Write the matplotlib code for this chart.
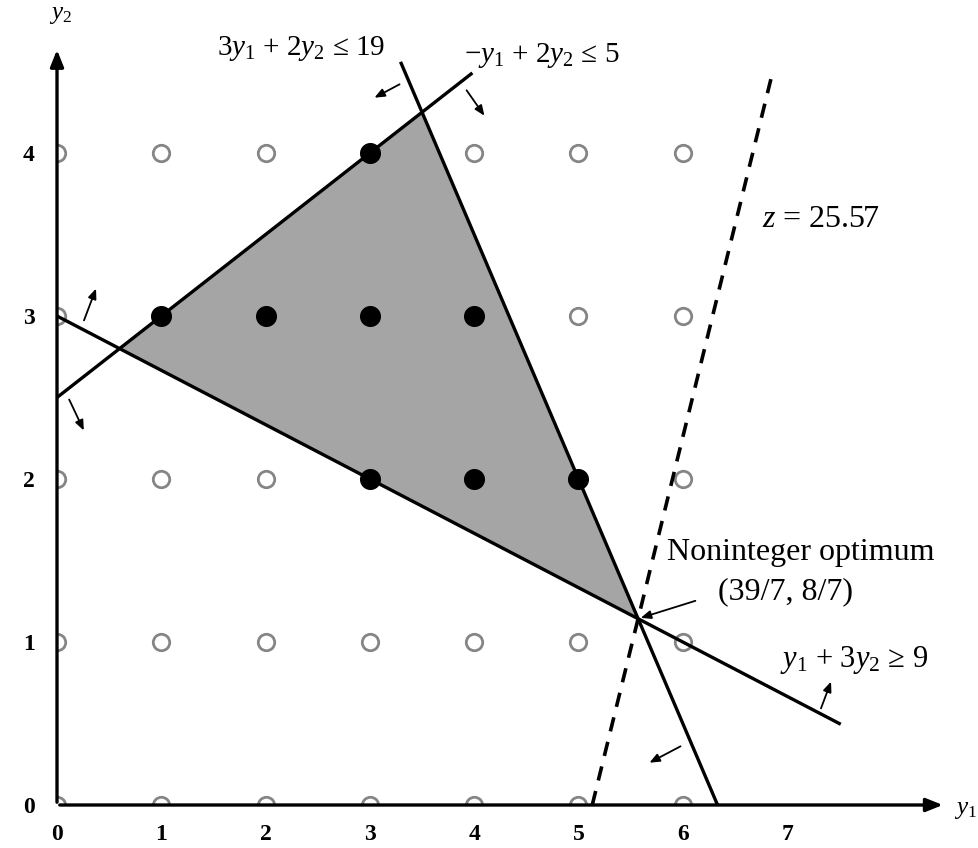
import matplotlib
matplotlib.use("Agg")
import matplotlib.pyplot as plt
import numpy as np
from matplotlib.patches import Polygon

plt.rcParams['font.family'] = ['Liberation Serif', 'DejaVu Serif']
plt.rcParams['mathtext.fontset'] = 'custom'
plt.rcParams['mathtext.rm'] = 'Liberation Serif'
plt.rcParams['mathtext.it'] = 'Liberation Serif:italic'
plt.rcParams['mathtext.bf'] = 'Liberation Serif:bold'

# lattice of integer points
grid_x = [0, 1, 2, 3, 4, 5, 6]
grid_y = [0, 1, 2, 3, 4]
# feasible integer points (filled)
feas_x = [1, 2, 3, 4, 3, 3, 4, 5]
feas_y = [3, 3, 3, 3, 4, 2, 2, 2]

# constraints a*y1 + b*y2 = c
c1 = (3, 2, 19)    # 3y1 + 2y2 <= 19
c2 = (-1, 2, 5)    # -y1 + 2y2 <= 5
c3 = (1, 3, 9)     # y1 + 3y2 >= 9
opt = (39 / 7, 8 / 7)
obj_slope = 2.6    # slope of z = 25.57 line through the optimum

fig = plt.figure(figsize=(9.79, 8.48), dpi=100)
ax = fig.add_axes([57 / 979, 43 / 848, 915 / 979, 758 / 848])
ax.set_xlim(0, 915 / 104.3)
ax.set_ylim(0, 758 / 163)
for s in ax.spines.values():
    s.set_visible(False)

# feasible region
def meet(a, b):
    A = np.array([[a[0], a[1]], [b[0], b[1]]], dtype=float)
    return np.linalg.solve(A, [a[2], b[2]])

verts = [meet(c2, c3), meet(c1, c2), meet(c1, c3)]
ax.add_patch(Polygon(verts, closed=True, facecolor='#a5a5a5', edgecolor='none', zorder=1))

# open lattice points
gx, gy = np.meshgrid(grid_x, grid_y)
gx, gy = gx.ravel(), gy.ravel()
filled = set(zip(feas_x, feas_y))
mask = np.array([(a, b) not in filled for a, b in zip(gx, gy)])
ax.scatter(gx[mask], gy[mask], s=140, facecolor='white', edgecolor='#858585',
           linewidth=2.0, zorder=2)
ax.scatter(feas_x, feas_y, s=200, color='black', zorder=4)

# constraint lines
lw = 2.4
y2 = np.array([4.55, 0])
ax.plot((c1[2] - c1[1] * y2) / c1[0], y2, color='black', lw=lw, zorder=3)
y1 = np.array([0, 3.97])
ax.plot(y1, (c2[2] - c2[0] * y1) / c2[1], color='black', lw=lw, zorder=3)
y1 = np.array([0, 7.5])
ax.plot(y1, (c3[2] - c3[0] * y1) / c3[1], color='black', lw=lw, zorder=3)

# objective line
y2 = np.array([0, 4.48])
ax.plot(opt[0] + (y2 - opt[1]) / obj_slope, y2, color='black', lw=2.6,
        ls=(0, (4, 3)), zorder=3)

# axes with arrows
ax.annotate('', xy=(8.52, 0), xytext=(0, 0),
            arrowprops=dict(arrowstyle='-|>,head_length=1.0,head_width=0.4', color='black', lw=2.4),
            annotation_clip=False, zorder=5)
ax.annotate('', xy=(0, 4.65), xytext=(0, 0),
            arrowprops=dict(arrowstyle='-|>,head_length=1.0,head_width=0.4', color='black', lw=2.4),
            annotation_clip=False, zorder=5)

ax.set_xticks(range(8))
ax.set_yticks(range(5))
ax.tick_params(length=0, labelsize=17)
ax.tick_params(axis='x', pad=14)
ax.tick_params(axis='y', pad=16)
for t in ax.get_xticklabels() + ax.get_yticklabels():
    t.set_fontweight('bold')

ax.text(8.6, -0.03, r'$y_1$', fontsize=18, ha='left', va='center', clip_on=False)
ax.text(0.03, 4.78, r'$y_2$', fontsize=18, ha='center', va='bottom', clip_on=False)

# small direction arrows (pixel start, pixel end)
def px(p):
    return ((p[0] - 57) / 104.3, (805 - p[1]) / 163)

dir_arrows = [((402, 83), (372, 99)), ((465, 88), (486, 118)),
              ((83, 323), (97, 286)), ((68, 397), (85, 433)),
              ((820, 711), (832, 679)), ((683, 745), (647, 764))]
for a, b in dir_arrows:
    ax.annotate('', xy=px(b), xytext=px(a),
                arrowprops=dict(arrowstyle='-|>,head_length=0.6,head_width=0.25', color='black', lw=1.3),
                annotation_clip=False, zorder=5)
ax.annotate('', xy=opt, xytext=px((698, 600)),
            arrowprops=dict(arrowstyle='-|>,head_length=0.6,head_width=0.25', color='black', lw=1.3),
            zorder=5)

ax.text(2.34, 4.64, r'$3y_1$ + $2y_2$ ≤ 19', fontsize=21, ha='center', va='center', clip_on=False)
ax.text(4.65, 4.60, r'−$y_1$ + $2y_2$ ≤ 5', fontsize=21, ha='center', va='center', clip_on=False)
ax.text(6.76, 3.59, r'$z$ = 25.57', fontsize=23, ha='left', va='center')
ax.text(5.85, 1.55, 'Noninteger optimum', fontsize=23, ha='left', va='center')
ax.text(6.34, 1.31, '(39/7, 8/7)', fontsize=23, ha='left', va='center')
ax.text(6.93, 0.89, r'$y_1$ + $3y_2$ ≥ 9', fontsize=22, ha='left', va='center')

fig.savefig('out.png', dpi=100, facecolor='white')
